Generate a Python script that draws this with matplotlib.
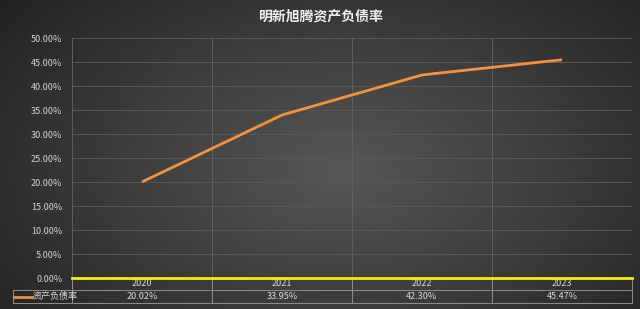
import numpy as np
import matplotlib.pyplot as plt
from matplotlib.transforms import blended_transform_factory

plt.rcParams['font.family'] = ['Noto Sans CJK SC', 'DejaVu Sans']

years = ['2020', '2021', '2022', '2023']
debt_ratio = [20.02, 33.95, 42.30, 45.47]
series_name = '资产负债率'
title = '明新旭腾资产负债率'

fig = plt.figure(figsize=(6.4, 3.09), dpi=100)

# dark radial background
bg = fig.add_axes([0, 0, 1, 1])
yy, xx = np.mgrid[0:309, 0:640]
d = np.sqrt(((xx - 340) / 420.0) ** 2 + ((yy - 170) / 260.0) ** 2)
shade = np.clip(0.34 - 0.2 * d, 0.13, 0.34)
bg.imshow(np.dstack([shade] * 3), aspect='auto', extent=[0, 1, 0, 1])
bg.axis('off')

ax = fig.add_axes([72 / 640, 1 - 278 / 309, 560 / 640, 240 / 309])
ax.patch.set_alpha(0)
x = np.arange(len(years))
ax.plot(x, debt_ratio, color='#f7903a', lw=2, solid_capstyle='butt', zorder=4)

ax.set_xlim(-0.5, len(years) - 0.5)
ax.set_ylim(0, 50)
ax.set_yticks(np.arange(0, 51, 5))
ax.set_yticklabels([f"{v:.2f}%" for v in np.arange(0, 51, 5)])
ax.set_xticks([])
ax.tick_params(axis='y', length=0, labelsize=6.5, colors='#d4d4d4', pad=7)
ax.grid(axis='y', color='#585858', lw=0.7)
for b in np.arange(-0.5, len(years), 1.0):
    ax.axvline(b, color='#606060', lw=0.7)
for s in ax.spines.values():
    s.set_visible(False)
ax.axhline(0, color='#f2f200', lw=2, clip_on=False, zorder=5)

# data table under the axis
tr = blended_transform_factory(ax.transData, ax.transAxes)
r1, r2 = -12 / 240, -25 / 240
lc = '#8e8e8e'
left = -0.5 - 59 / 140
for i, yr in enumerate(years):
    ax.text(i, r1 / 2, yr, transform=tr, ha='center', va='center',
            fontsize=6.5, color='#dadada')
    ax.text(i, (r1 + r2) / 2, f"{debt_ratio[i]:.2f}%", transform=tr,
            ha='center', va='center', fontsize=6.5, color='#dadada')
for b in np.arange(-0.5, len(years), 1.0):
    ax.plot([b, b], [0, r2], transform=tr, color=lc, lw=0.7, clip_on=False)
ax.plot([left, left], [r1, r2], transform=tr, color=lc, lw=0.7, clip_on=False)
ax.plot([left, len(years) - 0.5], [r1, r1], transform=tr, color=lc, lw=0.7, clip_on=False)
ax.plot([left, len(years) - 0.5], [r2, r2], transform=tr, color=lc, lw=0.7, clip_on=False)
ax.plot([left + 0.01, left + 0.135], [(r1 + r2) / 2] * 2, transform=tr,
        color='#f7903a', lw=2, clip_on=False)
ax.text(left + 0.14, (r1 + r2) / 2, series_name, transform=tr, ha='left',
        va='center', fontsize=6.5, color='#dadada')

fig.text(0.5, 1 - 17 / 309, title, ha='center', va='center', fontsize=10,
         fontweight='bold', color='#f0f0f0')

fig.savefig('out.png', dpi=100)
